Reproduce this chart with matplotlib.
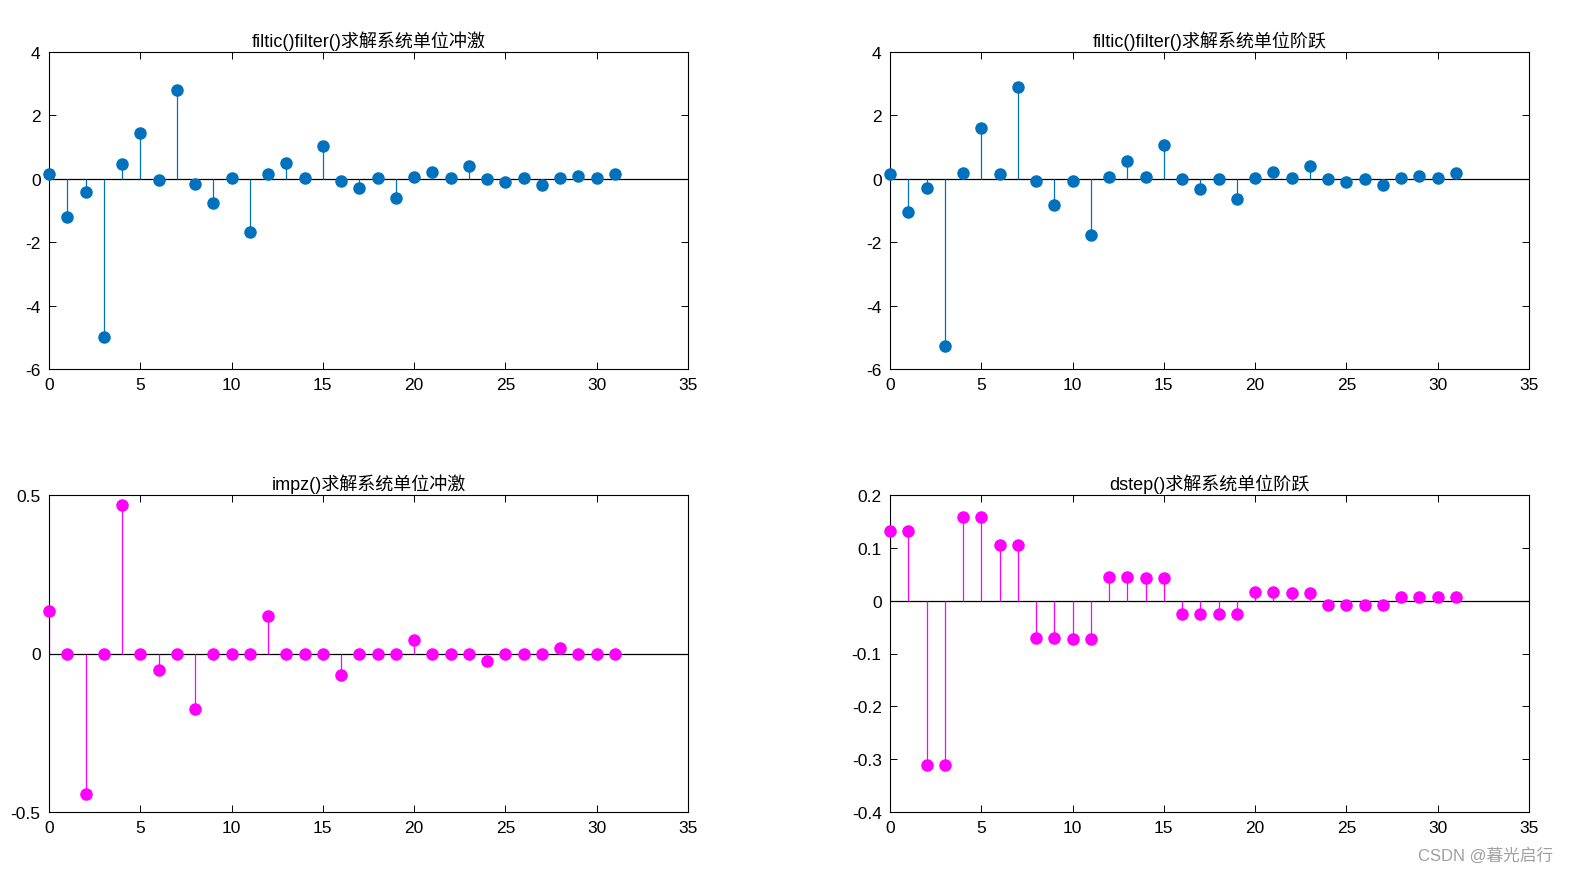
import numpy as np
import matplotlib
matplotlib.use("Agg")
import matplotlib.pyplot as plt
from matplotlib.ticker import FuncFormatter

plt.rcParams['font.family'] = ['Liberation Sans', 'Noto Sans CJK SC', 'DejaVu Sans']
plt.rcParams['axes.unicode_minus'] = False

n = np.arange(32)

# filtic()+filter() 单位冲激
h_filter = [0.15, -1.21, -0.43, -4.99, 0.48, 1.44, -0.04, 2.80, -0.17, -0.77,
            0.02, -1.69, 0.15, 0.51, 0.02, 1.04, -0.06, -0.29, 0.02, -0.60,
            0.06, 0.21, 0.02, 0.39, -0.01, -0.10, 0.02, -0.19, 0.04, 0.09,
            0.02, 0.16]
# filtic()+filter() 单位阶跃
s_filter = [0.16, -1.06, -0.29, -5.29, 0.18, 1.59, 0.14, 2.91, -0.06, -0.84,
            -0.06, -1.76, 0.07, 0.55, 0.07, 1.08, -0.01, -0.31, -0.01, -0.64,
            0.04, 0.22, 0.03, 0.41, 0.0, -0.10, 0.0, -0.21, 0.03, 0.10,
            0.02, 0.17]
# impz()
h_impz = [0.133, 0.0, -0.443, 0.0, 0.470, 0.0, -0.052, 0.0, -0.174, 0.0,
          -0.003, 0.0, 0.119, 0.0, -0.002, 0.0, -0.069, 0.0, 0.0, 0.0,
          0.043, 0.0, 0.0, 0.0, -0.025, 0.0, 0.0, 0.0, 0.016, 0.0,
          0.0, 0.0]
# dstep()
s_dstep = [0.132, 0.132, -0.311, -0.311, 0.159, 0.159, 0.106, 0.106, -0.070, -0.070,
           -0.073, -0.073, 0.045, 0.045, 0.042, 0.042, -0.026, -0.026, -0.026, -0.026,
           0.016, 0.016, 0.015, 0.015, -0.009, -0.009, -0.009, -0.009, 0.006, 0.006,
           0.006, 0.006]

titles = ['filtic()filter()求解系统单位冲激', 'filtic()filter()求解系统单位阶跃',
          'impz()求解系统单位冲激', 'dstep()求解系统单位阶跃']
series = [h_filter, s_filter, h_impz, s_dstep]
colors = ['#0072BD', '#0072BD', '#FF00FF', '#FF00FF']
ylims = [(-6, 4), (-6, 4), (-0.5, 0.5), (-0.4, 0.2)]
yticks = [np.arange(-6, 5, 2), np.arange(-6, 5, 2), [-0.5, 0, 0.5],
          [-0.4, -0.3, -0.2, -0.1, 0, 0.1, 0.2]]

fig = plt.figure(figsize=(15.76, 8.78), dpi=100)
W, H = 1576, 878
boxes = [(49, 53), (890, 53), (49, 496), (890, 496)]
fmt = FuncFormatter(lambda v, p: '%g' % round(v, 6))

for i in range(4):
    x0, y0 = boxes[i]
    ax = fig.add_axes([x0 / W, 1 - (y0 + 317) / H, 639 / W, 317 / H])
    ml, sl, bl = ax.stem(n, series[i], basefmt=' ')
    plt.setp(sl, color=colors[i], linewidth=0.9)
    plt.setp(ml, color=colors[i], markersize=8, markeredgecolor=colors[i],
             clip_on=False, zorder=3)
    ax.axhline(0, color='black', linewidth=0.9, zorder=1)
    ax.set_xlim(0, 35)
    ax.set_ylim(*ylims[i])
    ax.set_xticks(np.arange(0, 36, 5))
    ax.set_yticks(yticks[i])
    ax.yaxis.set_major_formatter(fmt)
    ax.tick_params(direction='in', top=True, right=True, length=5, width=0.7,
                   labelsize=12.5, pad=6)
    for sp in ax.spines.values():
        sp.set_linewidth(0.8)
    ax.set_title(titles[i], fontsize=13, pad=4)

fig.text(1553 / W, 1 - 856 / H, 'CSDN @暮光启行', ha='right', va='center',
         fontsize=12, color='#a0a0a0')

fig.savefig('out.png', dpi=100)
